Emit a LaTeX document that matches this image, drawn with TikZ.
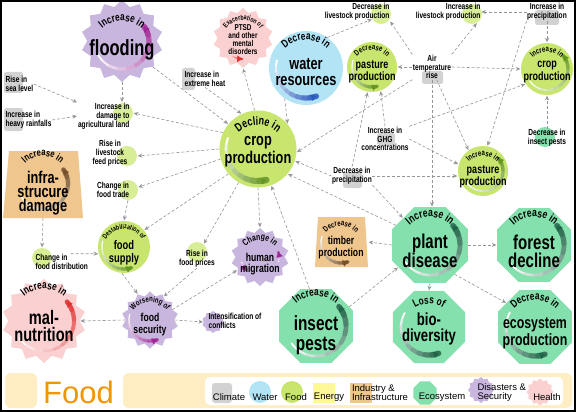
\documentclass[tikz,border=0pt]{standalone}
\usepackage{fontspec}
\setmainfont{Liberation Sans}[FakeStretch=0.75]
\newfontfamily\legfont{Liberation Sans}
\usetikzlibrary{shapes.geometric,arrows.meta,decorations.text}
\definecolor{fgreen}{RGB}{200,230,110}
\definecolor{fgreenL}{RGB}{215,238,150}
\definecolor{fgreenD}{RGB}{100,150,30}
\definecolor{wblue}{RGB}{178,228,246}
\definecolor{wblueD}{RGB}{40,90,190}
\definecolor{dpurp}{RGB}{200,182,222}
\definecolor{dpurpD}{RGB}{160,40,150}
\definecolor{hpink}{RGB}{250,208,208}
\definecolor{hpinkD}{RGB}{225,50,50}
\definecolor{eteal}{RGB}{132,224,172}
\definecolor{etealD}{RGB}{30,100,70}
\definecolor{itan}{RGB}{238,198,142}
\definecolor{itanD}{RGB}{120,80,40}
\definecolor{cgrey}{RGB}{210,210,210}
\definecolor{eyel}{RGB}{255,248,150}
\definecolor{band}{RGB}{255,238,196}
\definecolor{lgrey}{RGB}{150,150,150}
\definecolor{forange}{RGB}{240,150,0}
\pgfdeclarelayer{back}
\pgfdeclarelayer{bg}
\pgfdeclarelayer{lines}
\pgfsetlayers{back,bg,lines,main}
\newcommand\myfs[2]{\fontsize{#1}{#2}\selectfont\bfseries}
\newcommand\arctxt[5]{%
  \begingroup\fontsize{#4}{#4}\selectfont\bfseries
  \path[decorate, decoration={text along path, text align=center, text={#5}}]
    (#1,#2) ++(-178:#3) arc[start angle=-178, end angle=-2, radius=#3];
  \endgroup}
\newcommand\swoosh[7]{%
  \foreach \i in {0,...,9}{%
    \pgfmathsetmacro\aa{#4+(#5-#4)*\i/10}%
    \pgfmathsetmacro\bb{#4+(#5-#4)*(\i+1)/10}%
    \pgfmathsetmacro\pp{int(10*\i)}%
    \pgfmathsetmacro\ww{#7*(0.3+0.07*\i)}%
    \draw[line width=\ww pt, line cap=round, color=#6!\pp!white] plot[domain=\aa:\bb, samples=6] ({#1+#3*cos(\x)},{#2-#3*sin(\x)});
  }%
  \pgfmathsetmacro\dd{#5-3}%
  \draw[#6, line width=0.6pt, -{Triangle[length=5pt,width=6.5pt]}] plot[domain=\dd:#5, samples=3] ({#1+#3*cos(\x)},{#2-#3*sin(\x)});
}
\begin{document}
\begin{tikzpicture}[x=1pt,y=-1pt,
  sm/.style={font=\myfs{8.8}{8.8}, align=center, inner sep=0.4pt},
  legtxt/.style={font=\legfont\fontsize{9.5}{9}\selectfont, align=center, inner sep=0.3pt},
  conn/.style={draw=lgrey, densely dashed, line width=0.6pt, -{Stealth[length=4.5pt,width=4pt]}, shorten >=0.5pt},
  starp/.style={star, star point ratio=1.18, inner sep=0, draw=none},
  octo/.style={regular polygon, regular polygon sides=8, inner sep=0, draw=none},
  hcirc/.style={circle, fill=fgreenL, minimum size=20, inner sep=0},
  gbox/.style={fill=cgrey, rounded corners=2.5pt}]
\useasboundingbox (0,0) rectangle (576,412);
\begin{pgfonlayer}{back}
\fill[white] (0,0) rectangle (576,412);
\end{pgfonlayer}

% ---------- legend ----------
\fill[band, rounded corners=6pt] (5,373) rectangle (37,408);
\fill[band, rounded corners=6pt] (123,373) rectangle (572,408);
\fill[white, rounded corners=5pt] (205,377) rectangle (563,405);
\node[font=\legfont\fontsize{31}{31}\selectfont, text=forange, anchor=west, inner sep=0] (foodttl) at (43,392) {Food};
\node[fill=cgrey, rounded corners=3pt, minimum width=20, minimum height=20, inner sep=0] (lclim) at (222,393) {};
\node[legtxt] (lclimt) at (229,397) {Climate};
\node[circle, fill=wblue, minimum size=22, inner sep=0] (lwat) at (260,392) {};
\node[legtxt] (lwatt) at (265,397) {Water};
\node[circle, fill=fgreen, minimum size=22, inner sep=0] (lfood) at (292,392) {};
\node[legtxt] (lfoodt) at (296,397) {Food};
\node[fill=eyel, minimum width=22, minimum height=20, inner sep=0] (len) at (324,393) {};
\node[legtxt] (lent) at (329,397) {Energy};
\node[fill=itan, minimum width=22, minimum height=20, inner sep=0] (lind) at (361,393) {};
\node[legtxt, align=left] (lindt) at (380,392.5) {Industry \&\\Infrastructure};
\node[octo, fill=eteal, minimum size=25] (leco) at (425,393) {};
\node[legtxt] (lecot) at (442,397) {Ecosystem};
\node[starp, fill=dpurp, star points=12, minimum size=26] (ldis) at (481,390) {};
\node[legtxt, align=left, anchor=west] (ldist) at (477,392.5) {Disasters \&\\Security};
\node[starp, fill=hpink, star points=12, minimum size=27] (lhea) at (540,392) {};
\node[legtxt] (lheat) at (547,397) {Health};

% ---------- highlight marks ----------
\begin{pgfonlayer}{bg}
\fill[gbox] (4,72) rectangle (23,93);
\fill[gbox] (4,108) rectangle (23,131);
\fill[gbox] (182,68) rectangle (195,90);
\fill[gbox] (535,10) rectangle (559,25);
\fill[gbox] (422,71) rectangle (443,84);
\fill[gbox] (377,133) rectangle (395,145);
\fill[gbox] (343,172) rectangle (362,188);
\node[hcirc] (dmgc) at (123,113) {};
\node[hcirc] (dlivc) at (381,14) {};
\node[hcirc] (ilivc) at (472,14) {};
\node[hcirc] (feedc) at (127,156) {};
\node[hcirc] (tradec) at (128,190) {};
\node[hcirc] (distc) at (42,258) {};
\node[hcirc] (fpc) at (197,252) {};
\node[hcirc, fill=eteal] (dinsc) at (545,137) {};
\node[starp, star points=10, fill=dpurp, minimum size=22] (confl) at (213,322) {};
\end{pgfonlayer}

% ---------- small labels ----------
\node[sm, align=left, anchor=west] (sea) at (5,84) {Rise in\\sea level};
\node[sm, align=left, anchor=west] (rain) at (5,120) {Increase in\\heavy rainfalls};
\node[sm, align=right, anchor=east] (dmg) at (130,116) {Increase in\\damage to\\agricultural land};
\node[sm, align=left, anchor=west] (heat) at (184,79) {Increase in\\extreme heat};
\node[sm, align=right, anchor=east] (dliv) at (390,12) {Decrease in\\livestock production};
\node[sm, align=right, anchor=east] (iliv) at (481,12) {Increase in\\livestock production};
\node[sm] (iprec) at (547,12) {Increase in\\precipitation};
\node[sm] (air) at (432,67) {Air\\temperature\\rise};
\node[sm] (feed) at (110,153) {Rise in\\livestock\\feed prices};
\node[sm] (trade) at (113,190) {Change in\\food trade};
\node[sm] (ghg) at (385,139) {Increase in\\GHG\\concentrations};
\node[sm] (dins) at (547,138) {Decrease in\\insect pests};
\node[sm] (dprec) at (352,176) {Decrease in\\precipitation};
\node[sm, align=left, anchor=west] (distrib) at (35,262) {Change in\\food distribution};
\node[sm] (fprice) at (197,259) {Rise in\\food prices};
\node[sm, align=left, anchor=west] (conflt) at (208,321) {Intensification of\\conflicts};

% ---------- big shapes ----------
% flooding
\node[starp, star points=14, fill=dpurp, minimum size=82] (flood) at (122,41) {};
\swoosh{122}{42}{27}{205}{395}{dpurpD}{6}
\arctxt{122}{51}{30}{11}{Increase in}
\node[font=\myfs{22}{22}, inner sep=0] (floodt) at (122,50) {flooding};
% PTSD
\node[starp, star points=14, fill=hpink, minimum size=60] (ptsd) at (243,38) {};
\swoosh{243}{38}{21}{225}{268}{hpinkD}{2.5}
\arctxt{243}{41}{21}{7}{Exacerbation of}
\node[font=\myfs{8.5}{7.8}, align=center, inner sep=0] (ptsdt) at (243,39.5) {PTSD\\and other\\mental\\disorders};
% water
\node[circle, fill=wblue, minimum size=74, inner sep=0] (water) at (306,68) {};
\swoosh{306}{68}{30}{165}{290}{wblueD}{6}
\arctxt{306}{71}{31}{11}{Decrease in}
\node[font=\myfs{17}{16}, align=center, inner sep=0] (watert) at (306,72) {water\\resources};
% decrease pasture
\node[circle, fill=fgreen, minimum size=50, inner sep=0] (dpas) at (372,67) {};
\swoosh{372}{67}{20}{160}{285}{fgreenD}{4}
\arctxt{372}{70}{20}{8}{Decrease in}
\node[font=\myfs{12}{11}, align=center, inner sep=0] (dpast) at (372,72) {pasture\\production};
% increase crop
\node[circle, fill=fgreen, minimum size=52, inner sep=0] (icrop) at (547,69) {};
\swoosh{547}{69}{21}{215}{400}{fgreenD}{4}
\arctxt{547}{72}{20}{8}{Increase in}
\node[font=\myfs{12}{11}, align=center, inner sep=0] (icropt) at (547,72) {crop\\production};
% decline crop
\node[circle, fill=fgreen, minimum size=77, inner sep=0] (dcrop) at (258,149) {};
\swoosh{258}{149}{32}{160}{285}{fgreenD}{7}
\arctxt{258}{154}{29}{12}{Decline in}
\node[font=\myfs{17}{18}, align=center, inner sep=0] (dcropt) at (258,152) {crop\\production};
% infrastructure
\fill[itan] (3,218) -- (9,151) -- (78,151) -- (83,218) -- cycle;
\node[minimum width=80, minimum height=67, inner sep=0] (infra) at (43,184.5) {};
\swoosh{43}{184}{25}{210}{395}{itanD}{5}
\arctxt{43}{182}{26}{10}{Increase in}
\node[font=\myfs{17}{14}, align=center, inner sep=0] (infrat) at (43,193) {infra-\\strucure\\damage};
% increase pasture
\node[circle, fill=fgreen, minimum size=50, inner sep=0] (ipas) at (483,171) {};
\swoosh{483}{171}{20}{215}{400}{fgreenD}{4}
\arctxt{483}{176}{20}{8}{Increase in}
\node[font=\myfs{12}{12}, align=center, inner sep=0] (ipast) at (483,177) {pasture\\production};
% timber
\fill[itan] (315,267) -- (318,217) -- (365,217) -- (368,267) -- cycle;
\node[minimum width=53, minimum height=50, inner sep=0] (timber) at (341.5,242) {};
\swoosh{341}{243}{20}{160}{290}{itanD}{4}
\arctxt{341}{246}{20}{8}{Decrease in}
\node[font=\myfs{11.5}{12}, align=center, inner sep=0] (timbert) at (341,248) {timber\\production};
% destabilization
\node[circle, fill=fgreen, minimum size=52, inner sep=0] (destab) at (124,247) {};
\swoosh{124}{247}{22}{165}{290}{fgreenD}{4}
\arctxt{124}{250}{21}{7}{Destabilization of}
\node[font=\myfs{12.5}{12.5}, align=center, inner sep=0] (destabt) at (124,253) {food\\supply};
% migration
\node[starp, star points=14, fill=dpurp, minimum size=58] (migr) at (260,257) {};
\swoosh{260}{257}{19}{195}{225}{dpurpD}{2.5}
\swoosh{260}{257}{19}{345}{375}{dpurpD}{2.5}
\arctxt{260}{260}{20}{9}{Change in}
\node[font=\myfs{11.5}{10.5}, align=center, inner sep=0] (migrt) at (260,264) {human\\migration};
% plant disease
\node[octo, fill=eteal, minimum size=82] (plant) at (430,245) {};
\swoosh{430}{245}{30}{215}{400}{etealD}{6}
\arctxt{430}{247}{30}{11.5}{Increase in}
\node[font=\myfs{20}{18}, align=center, inner sep=0] (plantt) at (430,251) {plant\\disease};
% forest decline
\node[octo, fill=eteal, minimum size=80] (forest) at (534,245) {};
\swoosh{534}{245}{30}{215}{400}{etealD}{6}
\arctxt{534}{247}{30}{11.5}{Increase in}
\node[font=\myfs{20}{18}, align=center, inner sep=0] (forestt) at (534,251) {forest\\decline};
% malnutrition
\node[starp, star points=14, fill=hpink, minimum size=84] (maln) at (44,321) {};
\swoosh{44}{321}{30}{215}{400}{hpinkD}{5}
\arctxt{44}{320}{31}{11}{Increase in}
\node[font=\myfs{19.5}{17}, align=center, inner sep=0] (malnt) at (44,326) {mal-\\nutrition};
% food security
\node[starp, star points=14, fill=dpurp, minimum size=57] (secur) at (150,320) {};
\swoosh{150}{320}{21}{165}{290}{dpurpD}{4}
\arctxt{150}{323}{21}{8}{Worsening of}
\node[font=\myfs{11.5}{12}, align=center, inner sep=0] (securt) at (150,325) {food\\security};
% insect pests
\node[octo, fill=eteal, minimum size=80] (pests) at (316,326) {};
\swoosh{316}{326}{30}{215}{400}{etealD}{6}
\arctxt{316}{326}{30}{11}{Increase in}
\node[font=\myfs{20.5}{20}, align=center, inner sep=0] (pestst) at (316,335) {insect\\pests};
% biodiversity
\node[octo, fill=eteal, minimum size=78] (biod) at (429,327) {};
\swoosh{429}{327}{28}{150}{290}{etealD}{6}
\arctxt{429}{331}{27}{11}{Loss of}
\node[font=\myfs{17.5}{15.5}, align=center, inner sep=0] (biodt) at (429,329) {bio-\\diversity};
% ecosystem production
\node[octo, fill=eteal, minimum size=80] (ecos) at (535,327) {};
\swoosh{535}{327}{29}{150}{290}{etealD}{6}
\arctxt{535}{329}{29}{11}{Decrease in}
\node[font=\myfs{16.5}{17}, align=center, inner sep=0] (ecost) at (535,333) {ecosystem\\production};

% ---------- connectors ----------
\begin{pgfonlayer}{lines}
\draw[conn] (flood.south) -- (flood.south |- dmg.north);
\draw[conn] (sea.east) -- (dmg.north west);
\draw[conn] (rain.east) -- (dmg.west);
\draw[conn] (dcrop.155) -- (dmgc.east);
\draw[conn] (flood.-40) -- (dcrop.140);
\draw[conn] (heat.south) -- (dcrop.115);
\draw[conn] (dcrop.95) -- (ptsd.south);
\draw[conn] (water.-125) -- (dcrop.40);
\draw[conn] (water.55) -- (dlivc.-150);
\draw[conn] (air.north west) -- (dliv.south east);
\draw[conn] (air.north east) -- (ilivc.-60);
\draw[conn] (iprec.west) -- (iliv.east);
\draw[conn] (iprec.south) -- (icrop.north);
\draw[conn] (air.west) -- (dpas.east);
\draw[conn] (air.east) -- (icrop.west);
\draw[conn] (air.-70) -- (ipas.125);
\draw[conn] (air.south) -- (air.south |- plant.north);
\draw[conn] (air.south west) -- (dcrop.-5);
\draw[conn] (iprec.south west) -- (ipas.80);
\draw[conn] (ghg.north) -- (dpas.-70);
\draw[conn] (ghg.north east) -- (icrop.-145);
\draw[conn] (ghg.east) -- (ipas.165);
\draw[conn] (dprec.north) -- (dpas.-100);
\draw[conn] (dprec.west) -- (dcrop.-18);
\draw[conn] (dprec.east) -- (dprec.east -| ipas.west);
\draw[conn] (dprec.south east) -- (plant.135);
\draw[conn] (plant.150) -- (dcrop.-40);
\draw[conn] (dins.north) -- (icrop.south);
\draw[conn] (pests.100) -- (dcrop.-70);
\draw[conn] (pests.30) -- (plant.-145);
\draw[conn] (dcrop.south) -- (migr.north);
\draw[conn] (dcrop.-120) -- (fpc.50);
\draw[conn] (dcrop.-140) -- (destab.40);
\draw[conn] (dcrop.-165) -- (tradec.15);
\draw[conn] (dcrop.west) -- (feedc.east);
\draw[conn] (tradec.south) -- (destab.north);
\draw[conn] (infra.south) -- (distc.north);
\draw[conn] ([xshift=-18pt]distrib.north east) -- (destab.195);
\draw[conn] (destab.-95) -- (secur.115);
\draw[conn] (fprice.south) -- (secur.60);
\draw[conn] (secur.25) -- (migr.-150);
\draw[conn] (secur.east) -- (confl.west);
\draw[conn] (secur.west) -- (maln.east);
\draw[conn] (plant.west) -- (timber.east);
\draw[conn] (plant.east) -- (forest.west);
\draw[conn] (plant.south) -- (biod.north);
\draw[conn] (plant.-50) -- (ecos.140);
\end{pgfonlayer}

\draw[black, line width=2pt] (1,1) rectangle (575,411);
\end{tikzpicture}
\end{document}
